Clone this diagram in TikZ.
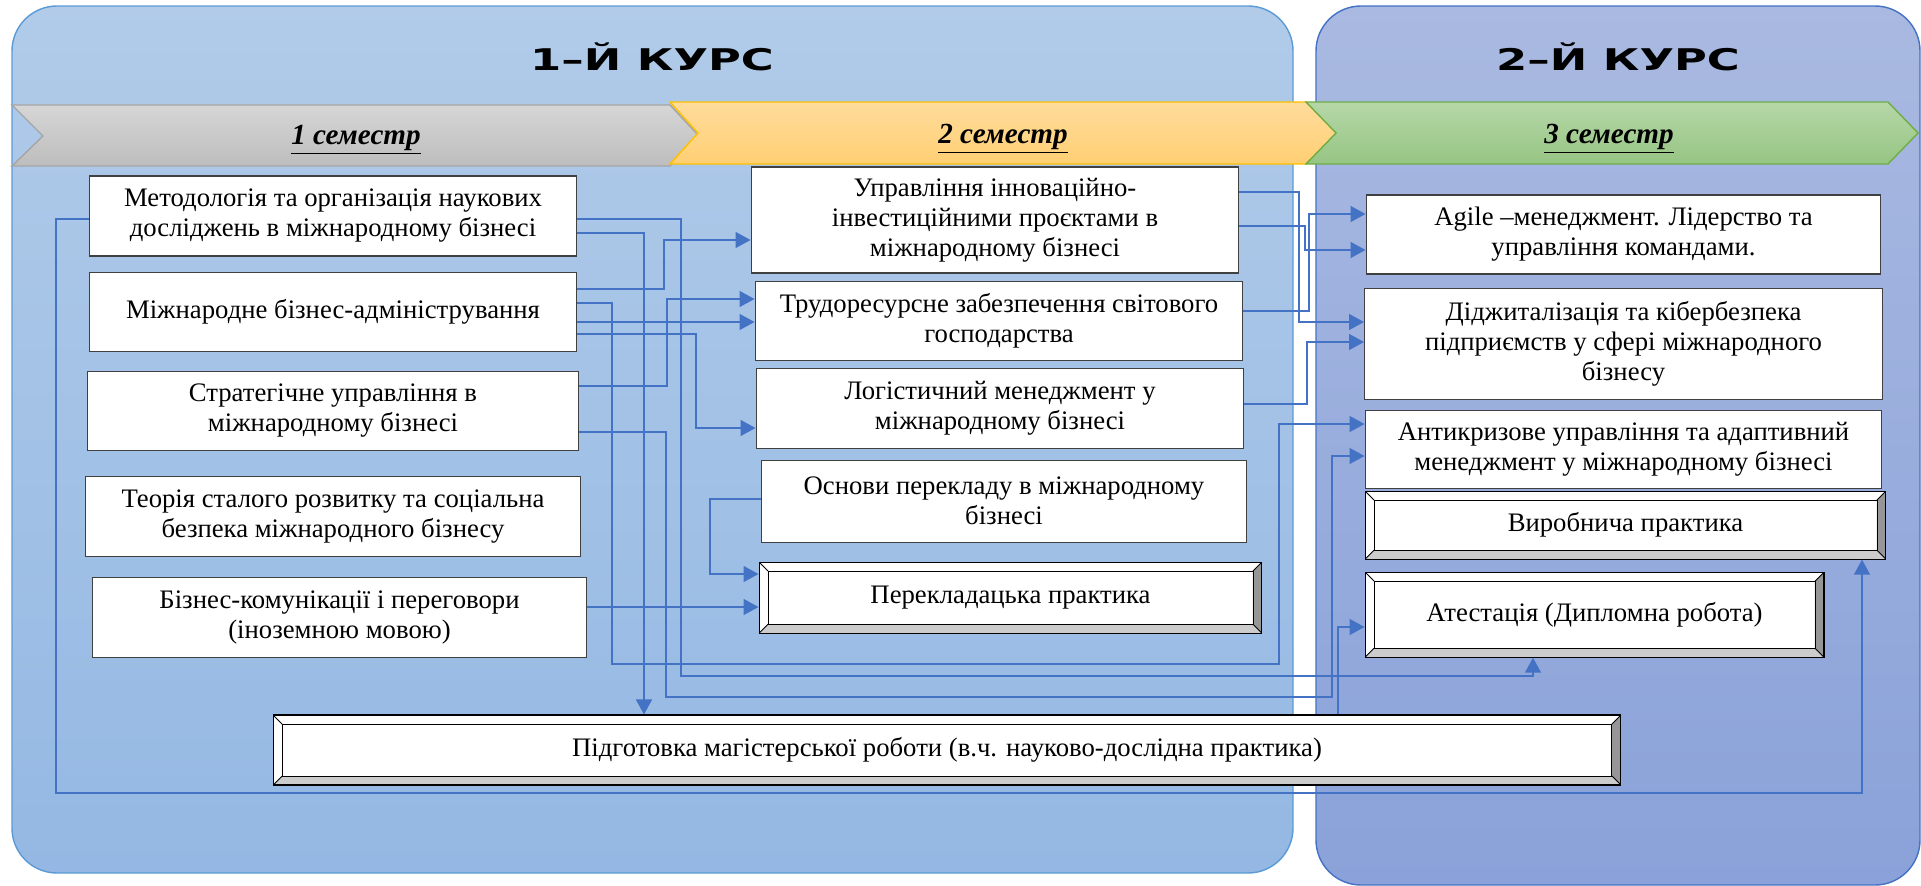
\documentclass[tikz,border=0pt]{standalone}
\usepackage{fontspec}
\setmainfont{Liberation Serif}
\newfontfamily\kursfont[FakeStretch=1.5]{DejaVu Sans}
\usetikzlibrary{arrows.meta, positioning, calc}
\newcommand{\boxfont}{\fontsize{15.2pt}{17.1pt}\selectfont}
\newcommand{\semfont}{\bfseries\itshape\fontsize{16.6pt}{19pt}\selectfont}
\newcommand{\bevw}{0.18cm}
\definecolor{linkblue}{HTML}{4472C4}
\definecolor{kursonetop}{HTML}{B1CBE9}
\definecolor{kursonebot}{HTML}{94B8E3}
\definecolor{kursoneline}{HTML}{5B9BD5}
\definecolor{kurstwotop}{HTML}{A9B9E1}
\definecolor{kurstwobot}{HTML}{8AA2D9}
\definecolor{kurstwoline}{HTML}{4472C4}
\definecolor{semonetop}{HTML}{D6D6D6}
\definecolor{semonebot}{HTML}{BDBDBD}
\definecolor{semoneline}{HTML}{A5A5A5}
\definecolor{semtwotop}{HTML}{FFDC9C}
\definecolor{semtwobot}{HTML}{FFCF73}
\definecolor{semtwoline}{HTML}{FFC000}
\definecolor{semthreetop}{HTML}{B6D7A8}
\definecolor{semthreebot}{HTML}{96C583}
\definecolor{semthreeline}{HTML}{70AD47}
\definecolor{boxline}{HTML}{404040}
\definecolor{bevelright}{HTML}{969696}
\definecolor{bevelbottom}{HTML}{CCCCCC}

\begin{document}
\begin{tikzpicture}[
    x=0.02cm, y=-0.02cm,
    box/.style={rectangle, draw=boxline, fill=white, line width=0.6pt, inner sep=0pt, align=center, font=\boxfont},
    bevelbox/.style={box, draw=black, path picture={
        \coordinate (bvnw) at (path picture bounding box.north west);
        \coordinate (bvne) at (path picture bounding box.north east);
        \coordinate (bvsw) at (path picture bounding box.south west);
        \coordinate (bvse) at (path picture bounding box.south east);
        \fill[bevelright] (bvne) -- (bvse) -- ([xshift=-\bevw, yshift=\bevw]bvse) -- ([xshift=-\bevw, yshift=-\bevw]bvne) -- cycle;
        \fill[bevelbottom] (bvsw) -- (bvse) -- ([xshift=-\bevw, yshift=\bevw]bvse) -- ([xshift=\bevw, yshift=\bevw]bvsw) -- cycle;
        \draw[black, line width=0.5pt] ([xshift=\bevw, yshift=-\bevw]bvnw) rectangle ([xshift=-\bevw, yshift=\bevw]bvse);
        \draw[black, line width=0.5pt] (bvnw) -- ([xshift=\bevw, yshift=-\bevw]bvnw) (bvne) -- ([xshift=-\bevw, yshift=-\bevw]bvne)
            (bvsw) -- ([xshift=\bevw, yshift=\bevw]bvsw) (bvse) -- ([xshift=-\bevw, yshift=\bevw]bvse);
    }},
    panel/.style={rounded corners=0.9cm, line width=0.8pt},
    chevron/.style={line width=0.8pt},
    semlabel/.style={font=\semfont},
    kurslabel/.style={font=\kursfont\bfseries\fontsize{17pt}{20pt}\selectfont},
    arrow/.style={linkblue, line width=0.8pt, -{Triangle[length=0.3cm, width=0.32cm]}}
]
\useasboundingbox (0,0) rectangle (1921,886);

% Panels
\draw[panel, draw=kursoneline, top color=kursonetop, bottom color=kursonebot] (12,6) rectangle (1293,873);
\draw[panel, draw=kurstwoline, top color=kurstwotop, bottom color=kurstwobot] (1316,6) rectangle (1920,885);
\node[kurslabel] (kurs1) at (652,57) {1–Й КУРС};
\node[kurslabel] (kurs2) at (1618,57) {2–Й КУРС};

% Semesters
\draw[chevron, draw=semoneline, top color=semonetop, bottom color=semonebot]
    (12,105) -- (670,105) -- (699,136) -- (670,166) -- (12,166) -- (43,136) -- cycle;
\draw[chevron, draw=semtwoline, top color=semtwotop, bottom color=semtwobot]
    (670,102) -- (1306,102) -- (1337,133) -- (1306,164) -- (670,164) -- (698,133) -- cycle;
\draw[chevron, draw=semthreeline, top color=semthreetop, bottom color=semthreebot]
    (1306,102) -- (1888,102) -- (1918,133) -- (1888,164) -- (1306,164) -- (1336,133) -- cycle;
\node[semlabel] (sem1) at (356,140) {\underline{1 семестр}};
\node[semlabel] (sem2) at (1003,139) {\underline{2 семестр}};
\node[semlabel] (sem3) at (1609,139) {\underline{3 семестр}};

% Semester 1
\node[box, minimum width=9.76cm, minimum height=1.6cm] (met) at (333,216) {Методологія та організація наукових\\досліджень в міжнародному бізнесі};
\node[box, minimum width=9.76cm, minimum height=1.58cm, below=0.3cm of met] (mba) {Міжнародне бізнес-адміністрування};
\node[box, minimum width=9.84cm, minimum height=1.58cm, below=0.38cm of mba] (strat) {Стратегічне управління в\\міжнародному бізнесі};
\node[box, minimum width=9.9cm, minimum height=1.6cm, below=0.5cm of strat] (teor) {Теорія сталого розвитку та соціальна\\безпека міжнародного бізнесу};
\node[box, minimum width=9.88cm, minimum height=1.6cm, below=0.4cm of teor, xshift=0.13cm] (komun) {Бізнес-комунікації і переговори\\(іноземною мовою)};

% Semester 2
\node[box, minimum width=9.76cm, minimum height=2.12cm] (upr) at (995,220) {Управління інноваційно-\\інвестиційними проєктами в\\міжнародному бізнесі};
\node[box, minimum width=9.76cm, minimum height=1.58cm, below=0.14cm of upr, xshift=0.08cm] (trud) {Трудоресурсне забезпечення світового\\господарства};
\node[box, minimum width=9.76cm, minimum height=1.6cm, below=0.14cm of trud, xshift=0.02cm] (log) {Логістичний менеджмент у\\міжнародному бізнесі};
\node[box, minimum width=9.72cm, minimum height=1.64cm, below=0.22cm of log, xshift=0.08cm] (osn) {Основи перекладу в міжнародному\\бізнесі};
\node[bevelbox, minimum width=10.06cm, minimum height=1.42cm, below=0.38cm of osn, xshift=0.13cm] (perekl) {Перекладацька практика};

% Semester 3
\node[box, minimum width=10.3cm, minimum height=1.58cm] (agile) at (1623.5,234.5) {Agile –менеджмент. Лідерство та\\управління командами.};
\node[box, minimum width=10.36cm, minimum height=2.22cm, below=0.26cm of agile] (didzh) {Діджиталізація та кібербезпека\\підприємств у сфері міжнародного\\бізнесу};
\node[box, minimum width=10.34cm, minimum height=1.56cm, below=0.2cm of didzh] (anti) {Антикризове управління та адаптивний\\менеджмент у міжнародному бізнесі};
\node[bevelbox, minimum width=10.42cm, minimum height=1.36cm, below=0.04cm of anti, xshift=0.04cm] (vyrob) {Виробнича практика};
\node[bevelbox, minimum width=9.18cm, minimum height=1.7cm, below=0.24cm of vyrob.south west, anchor=north west] (atest) {Атестація (Дипломна робота)};

% Master thesis
\node[bevelbox, minimum width=26.96cm, minimum height=1.4cm] (pidg) at (947,750) {Підготовка магістерської роботи (в.ч. науково-дослідна практика)};

% Links from semester 1
\draw[arrow] (met.east |- 0,219) -- (681,219) |- (1533,676) -- (1533,0 |- atest.south);
\draw[arrow] (met.east |- 0,233) -| (644,0 |- pidg.north);
\draw[arrow] (met.west |- 0,219) -- (56,219) |- (1862,793) -- (1862,0 |- vyrob.south);
\draw[arrow] (mba.east |- 0,289) -| (664,240) -- (upr.west |- 0,240);
\draw[arrow] (mba.east |- 0,303) -| (612,664) -| (1279,424) -- (anti.west |- 0,424);
\draw[arrow] (mba.east |- 0,322) -- (trud.west |- 0,322);
\draw[arrow] (mba.east |- 0,334) -| (696,428) -- (log.west |- 0,428);
\draw[arrow] (strat.east |- 0,386) -| (667,299) -- (trud.west |- 0,299);
\draw[arrow] (strat.east |- 0,432) -| (666,697) -| (1332,456) -- (anti.west |- 0,456);
\draw[arrow] (komun.east |- 0,607) -- (perekl.west |- 0,607);

% Links from semester 2
\draw[arrow] (osn.west |- 0,499) -| (710,574) -- (perekl.west |- 0,574);
\draw[arrow] (upr.east |- 0,192) -| (1299,322) -- (didzh.west |- 0,322);
\draw[arrow] (upr.east |- 0,226) -| (1305,250) -- (agile.west |- 0,250);
\draw[arrow] (trud.east |- 0,311) -| (1309,214) -- (agile.west |- 0,214);
\draw[arrow] (log.east |- 0,404) -| (1307,342) -- (didzh.west |- 0,342);
\draw[arrow] (1338,0 |- pidg.north) |- (atest.west |- 0,627);

\end{tikzpicture}
\end{document}
